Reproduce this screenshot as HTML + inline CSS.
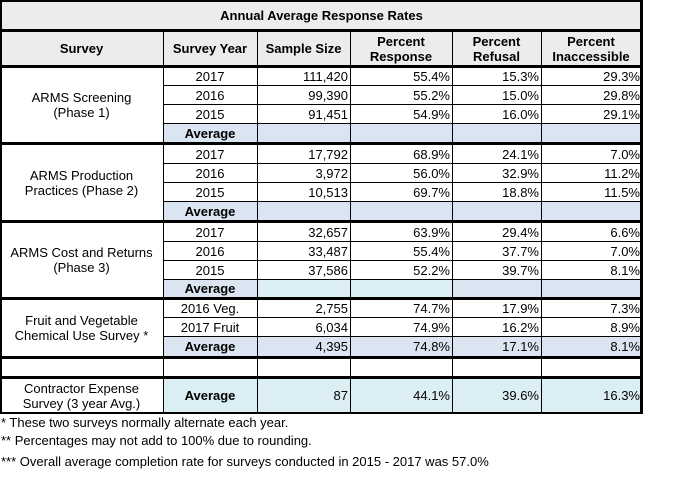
<!DOCTYPE html>
<html><head><meta charset="utf-8"><style>
body{margin:0;width:683px;height:478px;background:#fff;position:relative;overflow:hidden;font-family:"Liberation Sans",sans-serif;font-size:13px;color:#000}
div{position:absolute;box-sizing:border-box}
.l{background:#000}
.t{display:flex;align-items:center;justify-content:center;text-align:center;line-height:15px;white-space:nowrap}
.r{display:flex;align-items:center;justify-content:flex-end;padding-right:2px;white-space:nowrap}
.b{font-weight:bold}
.bl{background:#dbe5f1}.cy{background:#dbeef3}.gr{background:#ececec}
</style></head><body>
<!-- backgrounds -->
<div class="gr" style="left:0;top:0;width:643px;height:66px"></div>
<div class="bl" style="left:163px;top:123px;width:478px;height:20px"></div>
<div class="bl" style="left:163px;top:201px;width:478px;height:20px"></div>
<div class="bl" style="left:163px;top:279px;width:478px;height:19px"></div>
<div class="cy" style="left:257px;top:279px;width:195px;height:19px"></div>
<div class="bl" style="left:163px;top:336px;width:478px;height:21px"></div>
<div class="cy" style="left:163px;top:378px;width:478px;height:35px"></div>

<!-- horizontal lines -->
<div class="l" style="left:0;top:0;width:643px;height:2px"></div>
<div class="l" style="left:0;top:29px;width:643px;height:3px"></div>
<div class="l" style="left:0;top:65px;width:643px;height:3px"></div>
<div class="l" style="left:163px;top:85px;width:480px;height:1px"></div>
<div class="l" style="left:163px;top:104px;width:480px;height:1px"></div>
<div class="l" style="left:163px;top:123px;width:480px;height:1px"></div>
<div class="l" style="left:0;top:142px;width:643px;height:3px"></div>
<div class="l" style="left:163px;top:163px;width:480px;height:1px"></div>
<div class="l" style="left:163px;top:182px;width:480px;height:1px"></div>
<div class="l" style="left:163px;top:201px;width:480px;height:1px"></div>
<div class="l" style="left:0;top:220px;width:643px;height:3px"></div>
<div class="l" style="left:163px;top:241px;width:480px;height:1px"></div>
<div class="l" style="left:163px;top:260px;width:480px;height:1px"></div>
<div class="l" style="left:163px;top:279px;width:480px;height:1px"></div>
<div class="l" style="left:0;top:297px;width:643px;height:3px"></div>
<div class="l" style="left:163px;top:317px;width:480px;height:1px"></div>
<div class="l" style="left:163px;top:336px;width:480px;height:1px"></div>
<div class="l" style="left:0;top:356px;width:643px;height:3px"></div>
<div class="l" style="left:0;top:376px;width:643px;height:3px"></div>
<div class="l" style="left:0;top:412px;width:643px;height:2px"></div>
<!-- vertical lines -->
<div class="l" style="left:0;top:0;width:2px;height:414px"></div>
<div class="l" style="left:640px;top:0;width:3px;height:414px"></div>
<div class="l" style="left:163px;top:29px;width:1px;height:385px"></div>
<div class="l" style="left:257px;top:29px;width:1px;height:385px"></div>
<div class="l" style="left:350px;top:29px;width:1px;height:385px"></div>
<div class="l" style="left:452px;top:29px;width:1px;height:385px"></div>
<div class="l" style="left:541px;top:29px;width:1px;height:385px"></div>

<!-- title/header -->
<div class="t b" style="left:0;top:2px;width:643px;height:27px">Annual Average Response Rates</div>
<div class="t b" style="left:0;top:32px;width:163px;height:33px">Survey</div>
<div class="t b" style="left:163px;top:32px;width:94px;height:33px">Survey Year</div>
<div class="t b" style="left:257px;top:32px;width:93px;height:33px">Sample Size</div>
<div class="t b" style="left:350px;top:32px;width:102px;height:33px">Percent<br>Response</div>
<div class="t b" style="left:452px;top:32px;width:89px;height:33px">Percent<br>Refusal</div>
<div class="t b" style="left:541px;top:32px;width:100px;height:33px">Percent<br>Inaccessible</div>

<!-- group 1 -->
<div class="t" style="left:0;top:68px;width:163px;height:74px">ARMS Screening<br>(Phase 1)</div>
<div class="t" style="left:163px;top:67px;width:94px;height:18px">2017</div>
<div class="r" style="left:257px;top:67px;width:93px;height:18px">111,420</div>
<div class="r" style="left:350px;top:67px;width:102px;height:18px">55.4%</div>
<div class="r" style="left:452px;top:67px;width:89px;height:18px">15.3%</div>
<div class="r" style="left:541px;top:67px;width:101px;height:18px">29.3%</div>
<div class="t" style="left:163px;top:86px;width:94px;height:18px">2016</div>
<div class="r" style="left:257px;top:86px;width:93px;height:18px">99,390</div>
<div class="r" style="left:350px;top:86px;width:102px;height:18px">55.2%</div>
<div class="r" style="left:452px;top:86px;width:89px;height:18px">15.0%</div>
<div class="r" style="left:541px;top:86px;width:101px;height:18px">29.8%</div>
<div class="t" style="left:163px;top:105px;width:94px;height:18px">2015</div>
<div class="r" style="left:257px;top:105px;width:93px;height:18px">91,451</div>
<div class="r" style="left:350px;top:105px;width:102px;height:18px">54.9%</div>
<div class="r" style="left:452px;top:105px;width:89px;height:18px">16.0%</div>
<div class="r" style="left:541px;top:105px;width:101px;height:18px">29.1%</div>
<div class="t b" style="left:163px;top:124px;width:94px;height:18px">Average</div>

<!-- group 2 -->
<div class="t" style="left:0;top:145px;width:163px;height:75px">ARMS Production<br>Practices (Phase 2)</div>
<div class="t" style="left:163px;top:145px;width:94px;height:18px">2017</div>
<div class="r" style="left:257px;top:145px;width:93px;height:18px">17,792</div>
<div class="r" style="left:350px;top:145px;width:102px;height:18px">68.9%</div>
<div class="r" style="left:452px;top:145px;width:89px;height:18px">24.1%</div>
<div class="r" style="left:541px;top:145px;width:101px;height:18px">7.0%</div>
<div class="t" style="left:163px;top:164px;width:94px;height:18px">2016</div>
<div class="r" style="left:257px;top:164px;width:93px;height:18px">3,972</div>
<div class="r" style="left:350px;top:164px;width:102px;height:18px">56.0%</div>
<div class="r" style="left:452px;top:164px;width:89px;height:18px">32.9%</div>
<div class="r" style="left:541px;top:164px;width:101px;height:18px">11.2%</div>
<div class="t" style="left:163px;top:183px;width:94px;height:18px">2015</div>
<div class="r" style="left:257px;top:183px;width:93px;height:18px">10,513</div>
<div class="r" style="left:350px;top:183px;width:102px;height:18px">69.7%</div>
<div class="r" style="left:452px;top:183px;width:89px;height:18px">18.8%</div>
<div class="r" style="left:541px;top:183px;width:101px;height:18px">11.5%</div>
<div class="t b" style="left:163px;top:202px;width:94px;height:18px">Average</div>

<!-- group 3 -->
<div class="t" style="left:0;top:223px;width:163px;height:74px">ARMS Cost and Returns<br>(Phase 3)</div>
<div class="t" style="left:163px;top:223px;width:94px;height:18px">2017</div>
<div class="r" style="left:257px;top:223px;width:93px;height:18px">32,657</div>
<div class="r" style="left:350px;top:223px;width:102px;height:18px">63.9%</div>
<div class="r" style="left:452px;top:223px;width:89px;height:18px">29.4%</div>
<div class="r" style="left:541px;top:223px;width:101px;height:18px">6.6%</div>
<div class="t" style="left:163px;top:242px;width:94px;height:18px">2016</div>
<div class="r" style="left:257px;top:242px;width:93px;height:18px">33,487</div>
<div class="r" style="left:350px;top:242px;width:102px;height:18px">55.4%</div>
<div class="r" style="left:452px;top:242px;width:89px;height:18px">37.7%</div>
<div class="r" style="left:541px;top:242px;width:101px;height:18px">7.0%</div>
<div class="t" style="left:163px;top:261px;width:94px;height:18px">2015</div>
<div class="r" style="left:257px;top:261px;width:93px;height:18px">37,586</div>
<div class="r" style="left:350px;top:261px;width:102px;height:18px">52.2%</div>
<div class="r" style="left:452px;top:261px;width:89px;height:18px">39.7%</div>
<div class="r" style="left:541px;top:261px;width:101px;height:18px">8.1%</div>
<div class="t b" style="left:163px;top:280px;width:94px;height:17px">Average</div>

<!-- group 4 -->
<div class="t" style="left:0;top:300px;width:163px;height:56px">Fruit and Vegetable<br>Chemical Use Survey *</div>
<div class="t" style="left:163px;top:300px;width:94px;height:17px">2016 Veg.</div>
<div class="r" style="left:257px;top:300px;width:93px;height:17px">2,755</div>
<div class="r" style="left:350px;top:300px;width:102px;height:17px">74.7%</div>
<div class="r" style="left:452px;top:300px;width:89px;height:17px">17.9%</div>
<div class="r" style="left:541px;top:300px;width:101px;height:17px">7.3%</div>
<div class="t" style="left:163px;top:318px;width:94px;height:18px">2017 Fruit</div>
<div class="r" style="left:257px;top:318px;width:93px;height:18px">6,034</div>
<div class="r" style="left:350px;top:318px;width:102px;height:18px">74.9%</div>
<div class="r" style="left:452px;top:318px;width:89px;height:18px">16.2%</div>
<div class="r" style="left:541px;top:318px;width:101px;height:18px">8.9%</div>
<div class="t b" style="left:163px;top:337px;width:94px;height:19px">Average</div>
<div class="r" style="left:257px;top:337px;width:93px;height:19px">4,395</div>
<div class="r" style="left:350px;top:337px;width:102px;height:19px">74.8%</div>
<div class="r" style="left:452px;top:337px;width:89px;height:19px">17.1%</div>
<div class="r" style="left:541px;top:337px;width:101px;height:19px">8.1%</div>

<!-- contractor -->
<div class="t" style="left:0;top:379px;width:163px;height:33px">Contractor Expense<br>Survey (3 year Avg.)</div>
<div class="t b" style="left:163px;top:379px;width:94px;height:33px">Average</div>
<div class="r" style="left:257px;top:379px;width:93px;height:33px">87</div>
<div class="r" style="left:350px;top:379px;width:102px;height:33px">44.1%</div>
<div class="r" style="left:452px;top:379px;width:89px;height:33px">39.6%</div>
<div class="r" style="left:541px;top:379px;width:101px;height:33px">16.3%</div>

<!-- footnotes -->
<div style="left:1px;top:415px;white-space:nowrap;line-height:16px">* These two surveys normally alternate each year.</div>
<div style="left:1px;top:433px;white-space:nowrap;line-height:16px">** Percentages may not add to 100% due to rounding.</div>
<div style="left:1px;top:454px;white-space:nowrap;line-height:16px">*** Overall average completion rate for surveys conducted in 2015 - 2017 was 57.0%</div>
</body></html>
